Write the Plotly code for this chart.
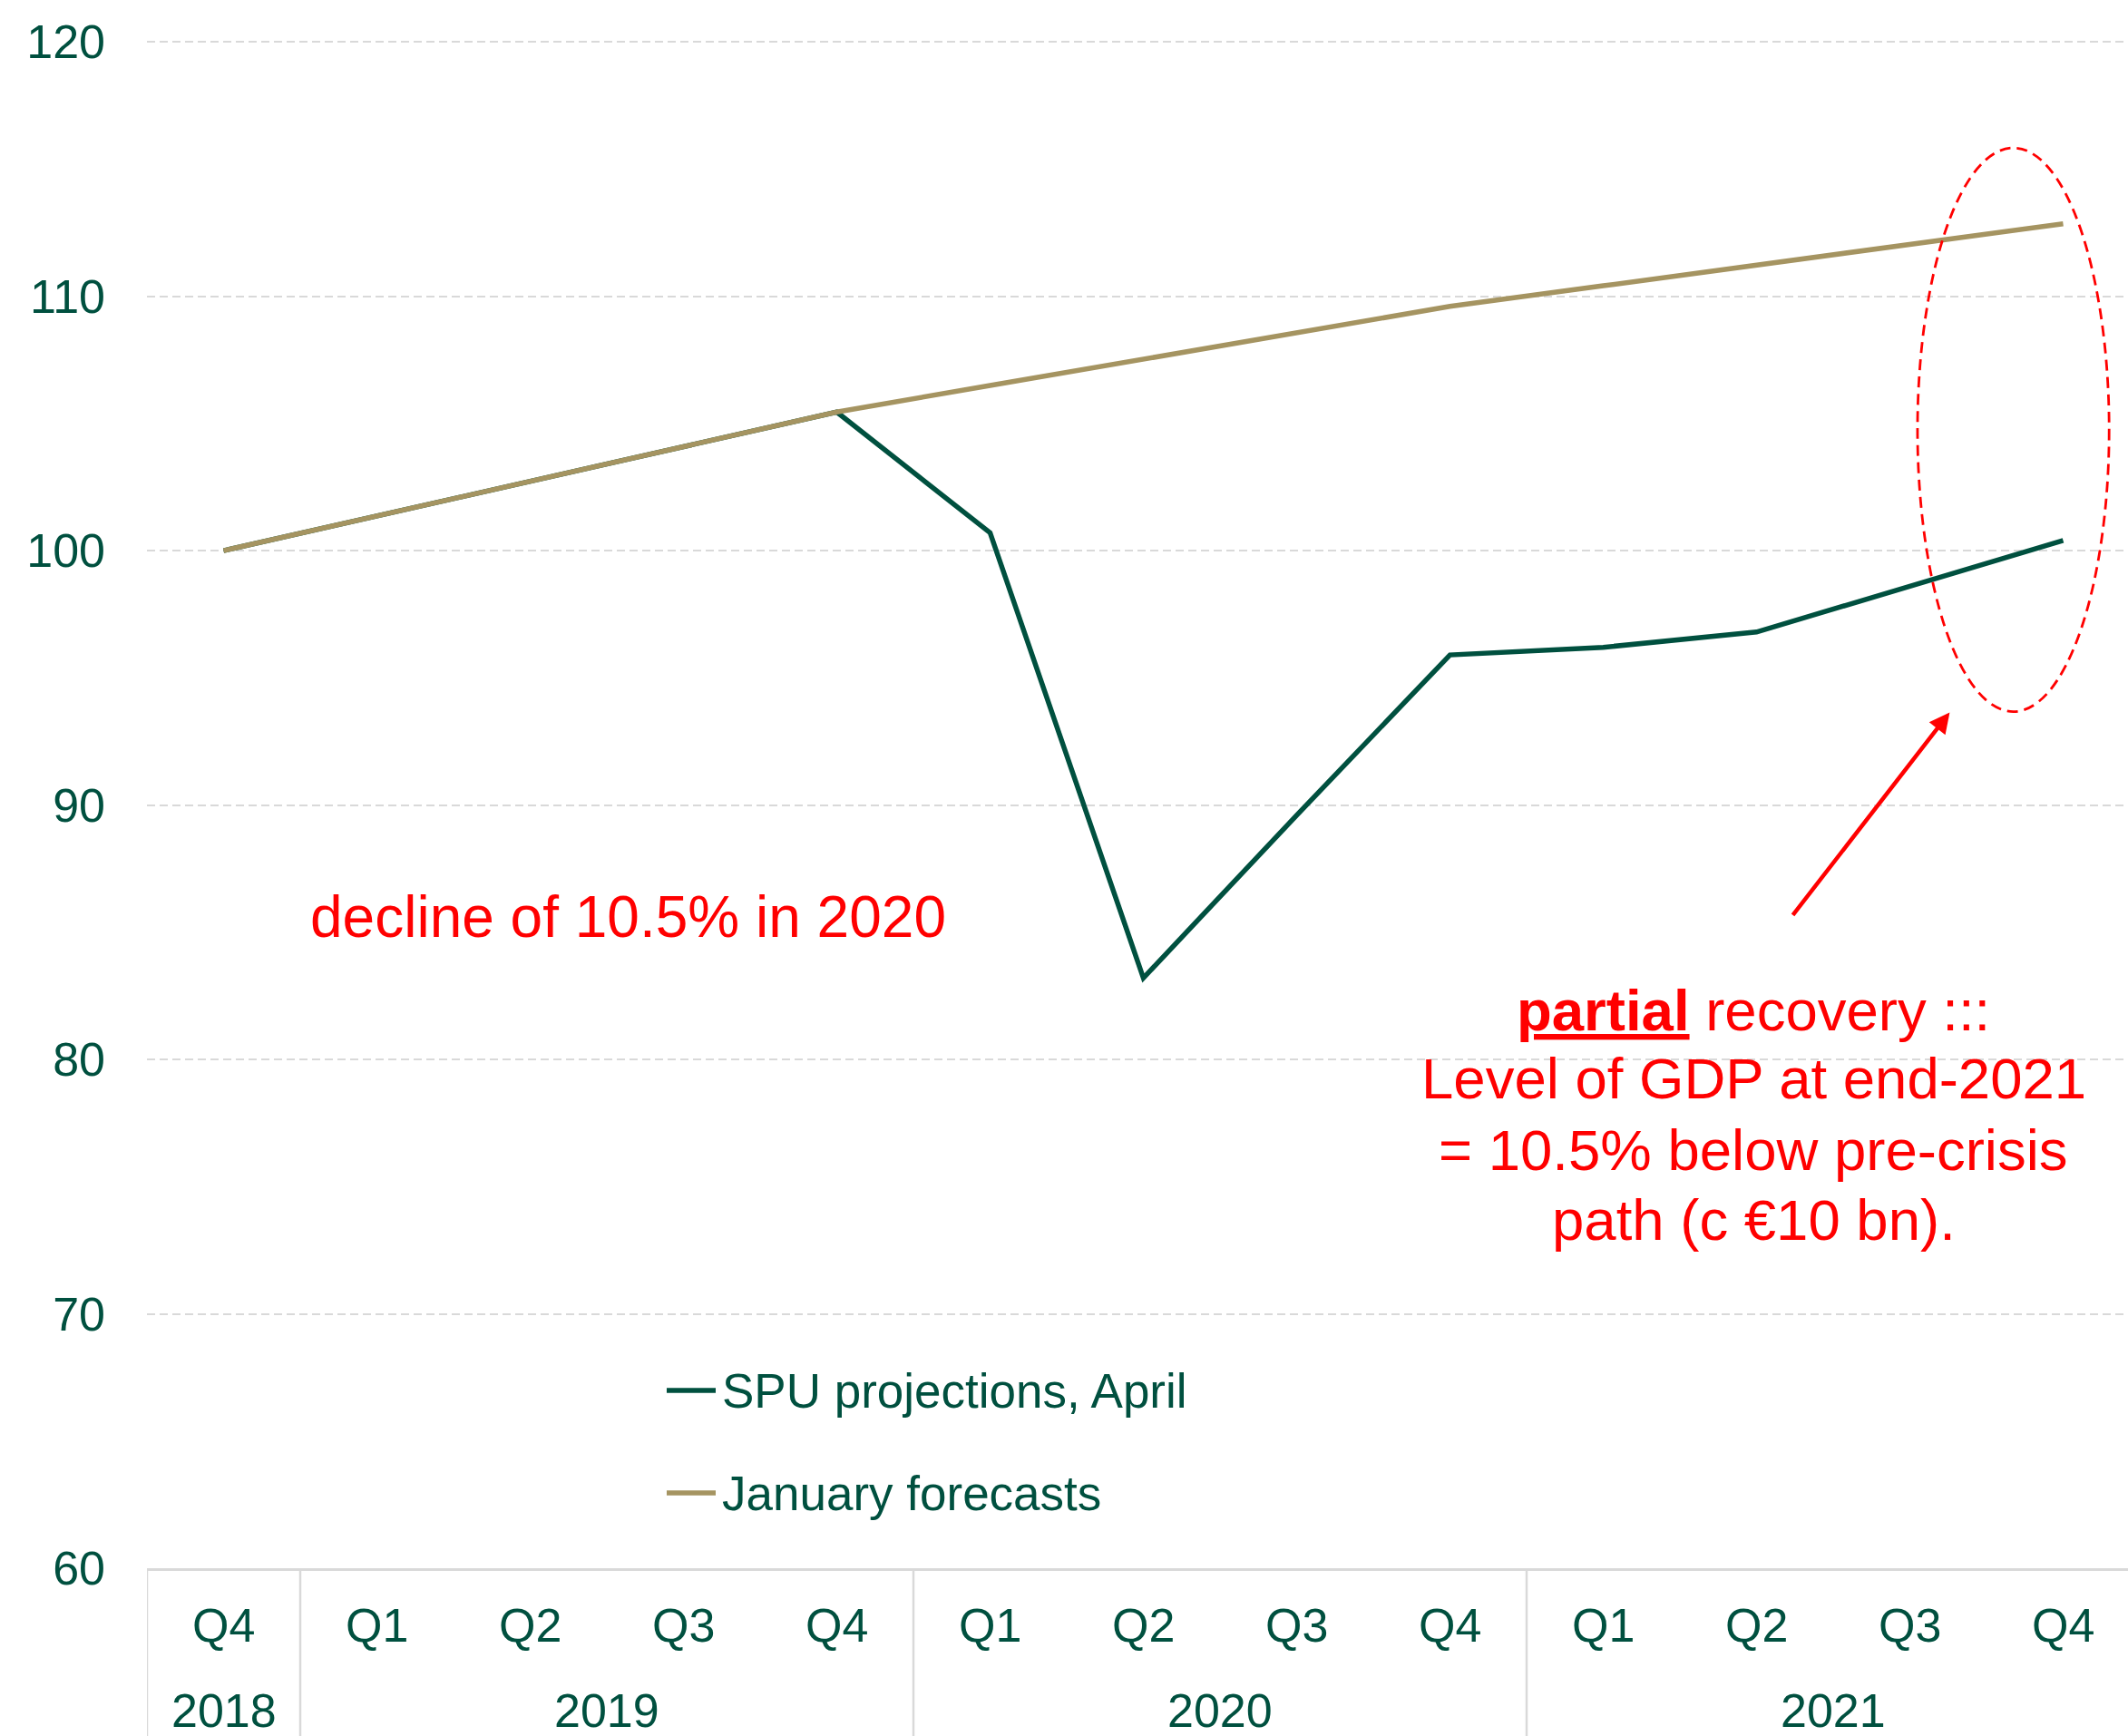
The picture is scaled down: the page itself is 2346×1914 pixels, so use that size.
import plotly.graph_objects as go

# ---- data ----
quarters = ["Q4", "Q1", "Q2", "Q3", "Q4", "Q1", "Q2", "Q3", "Q4", "Q1", "Q2", "Q3", "Q4"]
years = ["2018", "2019", "2020", "2021"]
year_centers = [0, 2.5, 6.5, 10.5]
year_dividers = [-0.5, 0.5, 4.5, 8.5]
spu_april = [100.0, 101.36, 102.73, 104.09, 105.45, 100.7, 83.2, 89.6, 95.9, 96.2, 96.8, 98.6, 100.4]
january = [100.0, 101.36, 102.73, 104.09, 105.45, 106.49, 107.53, 108.56, 109.6, 110.41, 111.23, 112.04, 112.85]
y_ticks = [60, 70, 80, 90, 100, 110, 120]
series_names = ["SPU projections, April", "January forecasts"]
recovery_lines = ["<b><u>partial</u></b> recovery :::", "Level of GDP at end-2021",
                  "= 10.5% below pre-crisis", "path (c €10 bn)."]

GREEN = "#00503f"
GOLD = "#a59461"
RED = "#ff0000"
GRID = "#d9d9d9"
FONT = "Arial, Liberation Sans, sans-serif"
colors = [GREEN, GOLD]

x = list(range(len(quarters)))

fig = go.Figure()
for name, vals, col in zip(series_names, [spu_april, january], colors):
    fig.add_trace(go.Scatter(x=x, y=vals, mode="lines", name=name,
                             line=dict(color=col, width=5.5), showlegend=False))

W, H = 2346, 1914
ML, MR, MT, MB = 162, 0, 45, 185
plot_w = W - ML - MR
plot_h = H - MT - MB
cat_w = 169.0
x_max = -0.5 + plot_w / cat_w


def py_to_paper(py):
    return (H - MB - py) / plot_h


def px_to_paper(px):
    return (px - ML) / plot_w


annotations = []
for i, q in enumerate(quarters):
    annotations.append(dict(x=i, y=py_to_paper(1792), xref="x", yref="paper", text=q,
                            showarrow=False, xanchor="center", yanchor="middle",
                            font=dict(size=52, color=GREEN, family=FONT)))
for yr, xc in zip(years, year_centers):
    annotations.append(dict(x=xc, y=py_to_paper(1886), xref="x", yref="paper", text=yr,
                            showarrow=False, xanchor="center", yanchor="middle",
                            font=dict(size=52, color=GREEN, family=FONT)))

# manual legend
leg_rows = [1533, 1646]
shapes = []
for name, col, ry in zip(series_names, colors, leg_rows):
    shapes.append(dict(type="line", xref="paper", yref="paper",
                       x0=px_to_paper(735), x1=px_to_paper(789),
                       y0=py_to_paper(ry), y1=py_to_paper(ry),
                       line=dict(color=col, width=5.5)))
    annotations.append(dict(x=px_to_paper(794), y=py_to_paper(ry), xref="paper", yref="paper",
                            text=name, showarrow=False, xanchor="left", yanchor="middle",
                            font=dict(size=53, color=GREEN, family=FONT)))

annotations.append(dict(x=2.64, y=85.6, xref="x", yref="y", text="decline of 10.5% in 2020",
                        showarrow=False, xanchor="center", yanchor="middle",
                        font=dict(size=64, color=RED, family=FONT)))
for line, py in zip(recovery_lines, [1114, 1189, 1268, 1345]):
    annotations.append(dict(x=9.98, y=py_to_paper(py), xref="x", yref="paper", text=line,
                            showarrow=False, xanchor="center", yanchor="middle",
                            font=dict(size=63.5, color=RED, family=FONT)))
annotations.append(dict(x=11.26, y=93.64, xref="x", yref="y", ax=10.23, ay=85.62,
                        axref="x", ayref="y", text="", showarrow=True,
                        arrowhead=2, arrowsize=1.0, arrowwidth=4.5, arrowcolor=RED))

for d in year_dividers:
    shapes.append(dict(type="line", xref="x", yref="paper", x0=d, x1=d, y0=0, y1=py_to_paper(H + 5),
                       line=dict(color=GRID, width=2.5)))
shapes.append(dict(type="circle", xref="x", yref="y", x0=11.05, x1=12.30, y0=93.67, y1=115.83,
                   line=dict(color=RED, width=2.8, dash="12px,7px")))

fig.update_layout(
    width=W, height=H,
    margin=dict(l=ML, r=MR, t=MT, b=MB, autoexpand=False),
    paper_bgcolor="white", plot_bgcolor="white",
    font=dict(family=FONT, color=GREEN),
    showlegend=False,
    xaxis=dict(range=[-0.5, x_max], showgrid=False, zeroline=False, showticklabels=False,
               showline=True, linecolor=GRID, linewidth=2.5, ticks="", fixedrange=True),
    yaxis=dict(range=[60, 120.04], tickvals=y_ticks, showgrid=True, gridcolor=GRID, gridwidth=2,
               griddash="9px,5px", zeroline=False, showline=False, ticks="",
               tickfont=dict(size=52, color=GREEN, family=FONT), ticklabelstandoff=45,
               automargin=False),
    annotations=annotations,
    shapes=shapes,
)

fig.write_html("out.html", config={"displayModeBar": False},
               post_script="document.body.style.margin='0';document.body.style.padding='0';")
